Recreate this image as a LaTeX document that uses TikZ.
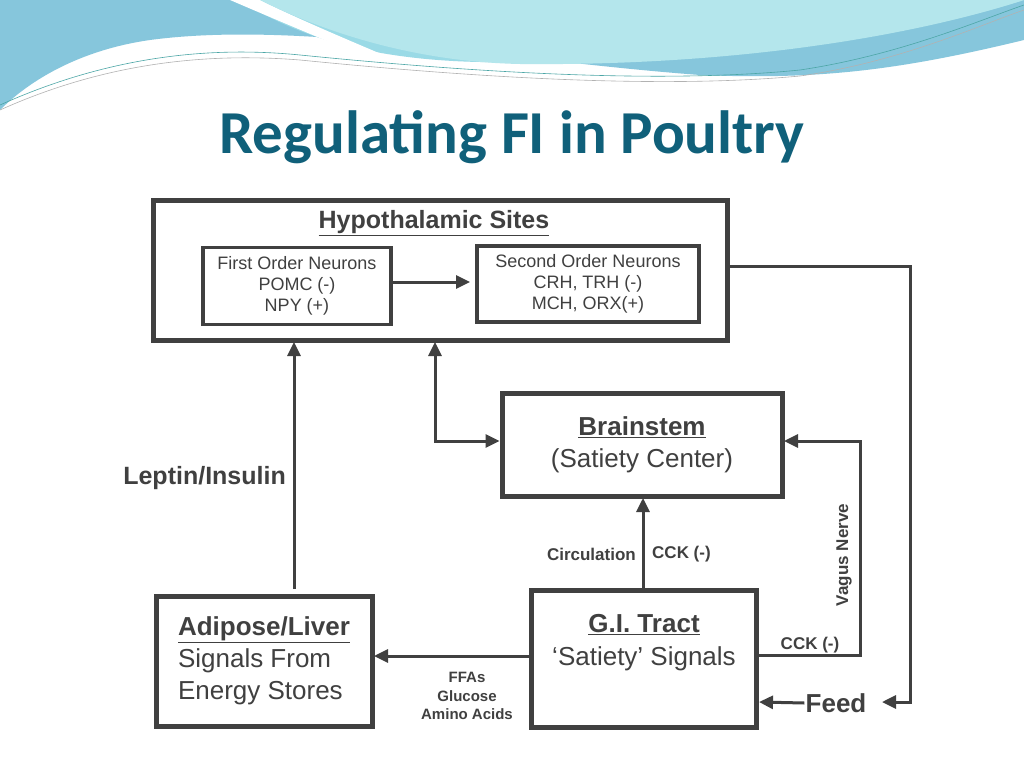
\documentclass[tikz,border=0pt]{standalone}
\usepackage{fontspec}
\setmainfont{Liberation Sans}
\newfontfamily\titlefont{Carlito}
\usetikzlibrary{arrows.meta}
\definecolor{ink}{HTML}{404040}
\definecolor{ttl}{HTML}{10607A}
\definecolor{waveA}{HTML}{86C6DC}
\definecolor{waveB}{HTML}{9ADAE6}
\definecolor{waveC}{HTML}{B4E6EC}
\begin{document}
\begin{tikzpicture}[x=1pt,y=-1pt,
  box/.style={draw=ink,line width=5pt},
  ibox/.style={draw=ink,line width=3.5pt},
  con/.style={draw=ink,line width=3pt,-{Triangle[length=14pt,width=13pt]}},
  lab/.style={text=ink,font=\bfseries\fontsize{17}{19}\selectfont,inner sep=1pt}]
\useasboundingbox (0,0) rectangle (1024,768);
\fill[white] (0,0) rectangle (1024,768);
% header waves
\fill[waveA] (0,0) -- (1024,0) -- (1024,40) .. controls (900,70) and (820,80) .. (700,75) .. controls (500,60) and (300,20) .. (150,40) .. controls (80,50) and (30,80) .. (0,110) -- cycle;
\fill[waveB] (240,0) .. controls (300,40) and (380,60) .. (480,62) .. controls (700,66) and (900,40) .. (1024,0) -- cycle;
\fill[white] (230,0) .. controls (300,30) and (360,55) .. (380,62) -- (400,62) .. controls (360,45) and (300,20) .. (260,0) -- cycle;
\fill[waveC] (260,0) .. controls (330,35) and (420,62) .. (520,64) .. controls (720,66) and (900,40) .. (1024,0) -- cycle;
\draw[teal!70,line width=0.6pt] (0,105) .. controls (100,60) and (200,45) .. (300,55) .. controls (450,70) and (650,85) .. (800,70) .. controls (900,55) and (980,20) .. (1024,5);
\draw[gray!60,line width=0.6pt] (0,110) .. controls (100,65) and (200,52) .. (300,60) .. controls (450,75) and (650,90) .. (800,76) .. controls (900,62) and (980,25) .. (1024,10);
\node[text=ttl,font=\titlefont\bfseries\fontsize{61}{66}\selectfont] (title) at (512,137) {Regulating FI in Poultry};
% boxes
\draw[box] (153,200) rectangle (727,340);
\node (hyp) at (440,270) [minimum width=574pt,minimum height=140pt] {};
\node[text=ink,font=\bfseries\fontsize{25}{28}\selectfont] (hyptitle) at (434,223) {\underline{Hypothalamic Sites}};
\node[ibox,minimum width=188pt,minimum height=77pt,align=center,text=ink,font=\fontsize{18}{21}\selectfont] (first) at (297,286) {First Order Neurons\\POMC (-)\\NPY (+)};
\node[ibox,minimum width=222pt,minimum height=76pt,align=center,text=ink,font=\fontsize{18}{21}\selectfont] (second) at (588,284) {Second Order Neurons\\CRH, TRH (-)\\MCH, ORX(+)};
\node[box,minimum width=280pt,minimum height=103pt,align=center,text=ink,font=\fontsize{26}{32}\selectfont] (brain) at (642,445) {\textbf{\underline{Brainstem}}\\(Satiety Center)};
\node[box,minimum width=225pt,minimum height=137pt,align=center,text=ink,font=\fontsize{26}{33}\selectfont] (gi) at (644,659) {\textbf{\underline{G.I. Tract}}\\`Satiety' Signals\\[6pt]};
\node[box,minimum width=216pt,minimum height=130pt,align=left,text=ink,font=\fontsize{26}{32}\selectfont] (adi) at (264,661) {\textbf{\underline{Adipose/Liver}}\\Signals From\\Energy Stores};
% connectors
\draw[con] (first.east |- 0,282) -- (470,282);
\coordinate (lepS) at (294,589);
\draw[con] (lepS) -- (294,342);
\node[lab,font=\bfseries\fontsize{25}{28}\selectfont,anchor=east] (lep) at (287,478) {Leptin/Insulin};
\draw[con,{Triangle[length=14pt,width=13pt]}-{Triangle[length=14pt,width=13pt]}] (435,342) |- (brain.west |- 0,441);
\draw[con] (gi.north -| 643,0) -- (643,498);
\node[lab,anchor=east] (circ) at (637,554) {Circulation};
\node[lab,anchor=west] (cck1) at (651,554) {CCK (-)};
\draw[con] (gi.east |- 0,655) -- (860,655) |- (784,441);
\node[lab,rotate=90] (vagus) at (844,555) {Vagus Nerve};
\node[lab,anchor=south] (cck2) at (810,654) {CCK (-)};
\draw[con] (hyp.east |- 0,266) -- (910,266) |- (882,702);
\node[text=ink,font=\bfseries\fontsize{26}{28}\selectfont,inner sep=1pt] (feed) at (836,703) {Feed};
\draw[con] (feed.west) -- (759,702);
\draw[con] (gi.west |- 0,656) -- (374,656);
\node[lab,align=center,font=\bfseries\fontsize{15}{18.5}\selectfont] (ffa) at (467,696) {FFAs\\Glucose\\Amino Acids};
\end{tikzpicture}
\end{document}
